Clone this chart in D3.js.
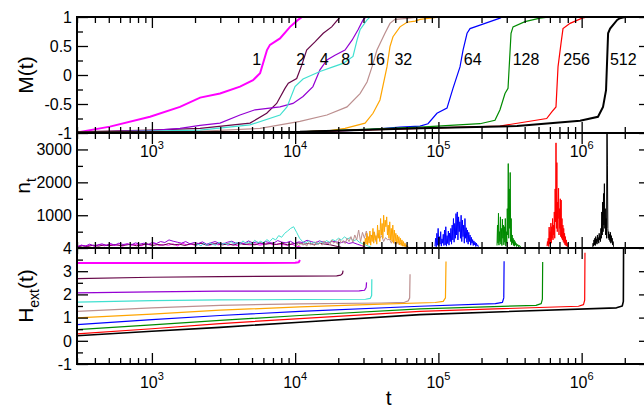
<!DOCTYPE html>
<html>
<head>
<meta charset="utf-8">
<script src="https://cdn.jsdelivr.net/npm/d3@7"></script>
<style>
body { margin: 0; background: #fff; }
svg { font-family: "Liberation Sans", Arial, sans-serif; }
</style>
</head>
<body>
<script>
// system sizes and their colours (xmgrace palette)
const sizes = ["1", "2", "4", "8", "16", "32", "64", "128", "256", "512"]
const colors = ["#ff00ff", "#670748", "#9400d3", "#40e0d0", "#bc8f8f",
  "#ffa500", "#0000ff", "#008b00", "#ff0000", "#000000"]

// where the size labels sit in the top panel (t, M)
const labelT = [5390, 10930, 15970, 22530, 36670, 56860, 173500, 408800, 923000, 1953000]
const labelM = 0.17

// M(t) curves, [t, M]
const mCurves = [
  [[300,-0.99],[509,-0.89],[970,-0.72],[1570,-0.55],[2170,-0.39],[2990,-0.32],[4120,-0.2],[5080,-0.09],[5690,0.03],[6360,0.43],[6670,0.52],[7840,0.63],[9210,0.83],[10470,0.95],[11170,1]],
  [[300,-0.98],[970,-0.95],[2170,-0.92],[4840,-0.83],[6330,-0.66],[7430,-0.49],[8490,-0.23],[8960,-0.14],[10250,-0.06],[11120,0.17],[12030,0.43],[13750,0.57],[15710,0.72],[17990,0.83],[20560,1]],
  [[300,-0.99],[970,-0.96],[1570,-0.92],[2170,-0.87],[2990,-0.83],[4120,-0.69],[5250,-0.6],[7840,-0.55],[9660,-0.49],[11350,-0.37],[13310,-0.2],[14900,0.09],[16670,0.26],[18970,0.34],[22290,0.43],[24950,0.6],[27480,0.78],[29780,0.95],[31260,1]],
  [[300,-0.99],[2170,-0.95],[4840,-0.86],[7840,-0.69],[8770,-0.55],[9980,-0.2],[11350,-0.07],[14900,0.06],[18370,0.14],[21580,0.2],[25350,0.32],[27040,0.6],[28380,0.78],[31760,0.95],[33340,1]],
  [[300,-0.99],[2170,-0.97],[5690,-0.92],[10800,-0.8],[16670,-0.69],[23020,-0.55],[28380,-0.32],[31760,-0.12],[34390,0.14],[37240,0.43],[42360,0.72],[45910,0.89],[49780,0.96],[63400,0.98],[74400,1]],
  [[300,-0.99],[10800,-0.98],[17500,-0.96],[22290,-0.92],[30760,-0.83],[34950,-0.66],[39090,-0.43],[43750,0.14],[45910,0.49],[48190,0.66],[53950,0.83],[60400,0.91],[68700,0.93],[74400,0.96],[102600,1]],
  [[300,-0.99],[10800,-0.98],[30000,-0.95],[53950,-0.9],[74400,-0.88],[84600,-0.84],[97700,-0.66],[114800,-0.57],[126400,-0.23],[141500,0.14],[148600,0.43],[158500,0.72],[166300,0.8],[195200,0.86],[269100,0.98],[277900,1]],
  [[300,-0.99],[10800,-0.98],[74400,-0.9],[195200,-0.84],[248300,-0.78],[269100,-0.6],[291700,-0.32],[306200,-0.23],[321400,0.72],[331900,0.83],[402000,0.92],[512000,0.98],[600000,1]],
  [[300,-0.99],[10800,-0.98],[74400,-0.92],[269100,-0.88],[570000,-0.75],[621000,-0.63],[662000,-0.55],[684000,0.14],[718000,0.55],[741000,0.8],[830000,0.89],[1007000,0.98],[1100000,1]],
  [[300,-0.99],[10800,-0.98],[74400,-0.92],[354000,-0.88],[975000,-0.79],[1300000,-0.72],[1410000,-0.55],[1480000,-0.26],[1530000,0.72],[1580000,0.8],[1770000,0.95],[1850000,0.98],[2010000,1]]
]

// n_t: first and last t of each record, values read at even steps in log t
const nRange = [[300,11000],[300,21000],[300,31000],[2000,34000],[10000,62000],
  [29780,61400],[94600,192000],[256500,377000],[573000,803000],[1194000,1680000]]
const nValues = [
  [40,90,60,100,50,110,70,120,80,100,60,130,90,110,70,120,100,140,80,110,90,130,70,150,100,120,80,140,110,90,130,100,150,90,120,80,140,110,100,130,90,120,150,100,130,110,90,120,60,30],
  [30,70,50,90,60,100,70,110,80,90,120,70,100,130,80,110,90,140,100,120,80,130,110,150,90,120,140,100,130,90,150,110,130,100,160,120,140,110,150,100,130,160,120,140,110,150,120,100,60,30],
  [40,90,60,120,70,100,130,80,140,90,150,110,130,100,160,120,150,110,170,140,200,170,250,210,180,150,200,130,170,140,190,120,160,200,150,130,180,210,150,170,140,220,160,190,130,200,170,150,230,180,160,210,140,190,170,240,200,160,220,180,150,210,190,160,200,140,170,120,80,30],
  [50,120,70,150,80,160,110,90,180,120,150,100,200,130,170,110,220,150,190,130,240,160,210,150,260,200,300,250,380,330,450,520,600,650,480,300,200,160,220,140,180,120,200,150,230,180,260,220,300,250,340,280,320,220,260,180,140,100,60,30],
  [50,120,70,150,90,130,60,170,100,140,70,200,110,160,90,220,130,180,100,250,150,200,120,280,160,230,140,300,200,350,180,400,250,550,200,480,300,520,250,400,350,500,200,450,300,380,200,320,250,280,150,250,120,200,100,150,80,100,50,30],
  [60,200,80,300,120,450,100,350,150,520,90,400,200,600,150,480,250,380,120,700,300,550,200,900,400,750,300,1000,500,850,650,950,400,700,300,800,250,600,200,700,150,550,200,450,120,400,150,350,100,300,80,250,60,200,50,150,40,100,30,20],
  [60,300,40,450,90,600,70,350,120,500,60,280,150,420,80,550,100,650,60,380,140,520,90,460,200,600,120,700,250,900,180,750,300,1050,400,1100,250,950,500,800,300,1000,200,850,350,700,150,900,300,620,180,550,120,480,200,400,90,330,150,260,80,220,100,180,50,150,70,100,40,20],
  [80,700,150,1060,90,500,200,950,120,600,80,880,300,700,100,650,180,900,60,500,150,1200,400,2570,300,1800,600,2300,200,900,100,400,150,300,80,250,60,200,100,150,50,120,80,100,40,90,60,70,30,20],
  [60,200,80,300,50,640,120,500,200,760,150,650,300,900,250,700,400,1100,300,1800,800,3200,600,2600,500,1400,900,1820,400,1200,600,1500,350,1460,300,900,250,700,200,600,150,450,100,350,80,250,60,150,40,20],
  [40,150,60,250,100,300,80,350,150,280,120,400,200,320,150,450,250,380,200,600,300,1100,400,1400,500,1660,700,1960,600,1200,400,900,300,4000,2500,600,300,500,250,420,200,480,150,380,200,300,100,200,50,20]
]

// H_ext(t) curves, [t, H]
const hCurves = [
  [[300,3.35],[10000,3.36],[10600,3.39],[10800,3.48]],
  [[300,2.68],[1000,2.74],[2990,2.77],[10800,2.79],[19500,2.8],[20800,2.83],[21400,2.9],[21600,3.02]],
  [[300,2.07],[1000,2.11],[2990,2.14],[28000,2.15],[30500,2.18],[31300,2.3],[31500,2.52]],
  [[300,1.67],[1000,1.73],[2990,1.76],[10800,1.78],[31000,1.79],[33500,1.83],[34200,1.95],[34300,2.65]],
  [[300,1.27],[1000,1.42],[2990,1.53],[10800,1.59],[40000,1.63],[58000,1.66],[61500,1.72],[63000,1.85],[63400,2.87]],
  [[300,0.99],[1000,1.15],[2990,1.32],[10800,1.46],[40000,1.58],[95000,1.65],[108000,1.7],[112000,1.85],[113000,3.42]],
  [[300,0.7],[1000,0.91],[2990,1.09],[10800,1.27],[74400,1.49],[250000,1.6],[280000,1.66],[286000,1.85],[287500,3.43]],
  [[300,0.48],[1000,0.69],[2990,0.88],[10800,1.09],[74400,1.38],[480000,1.53],[522000,1.6],[532000,1.8],[534500,3.4]],
  [[300,0.3],[1000,0.52],[2990,0.74],[10800,0.96],[74400,1.27],[950000,1.49],[1030000,1.56],[1050000,1.75],[1055000,3.8]],
  [[300,0.22],[1000,0.41],[2990,0.58],[10800,0.8],[74400,1.13],[1750000,1.42],[1920000,1.5],[1955000,1.7],[1962000,4.2]]
]

// axis ticks
const xMajor = [1e3, 1e4, 1e5, 1e6]
const xExp = ["3", "4", "5", "6"]
const mMajor = [-1, -0.5, 0, 0.5, 1], mMinor = [-0.75, -0.25, 0.25, 0.75]
const mLabels = ["-1", "-0.5", "0", "0.5", "1"]
const nMajor = [4, 1000, 2000, 3000], nMinor = [500, 1500, 2500]
const nLabels = ["4", "1000", "2000", "3000"]
const hMajor = [-1, 0, 1, 2, 3], hMinor = [-0.5, 0.5, 1.5, 2.5, 3.5]
const hLabels = ["-1", "0", "1", "2", "3"]

const width = 644, height = 408
const left = 77, right = 650

const svg = d3.select("body").append("svg")
  .attr("width", width)
  .attr("height", height)

const x = d3.scaleLog().domain([300, 3e6]).range([left, right])
const xMinor = x.ticks().filter(function (d) { return xMajor.indexOf(d) < 0 })

const yM = d3.scaleLinear().domain([-1, 1]).range([133, 17])
const yN = d3.scaleLinear().domain([4, 3500]).range([248, 133])
const yH = d3.scaleLinear().domain([-1, 4]).range([364, 248])

const panels = [
  { y: yM, major: mMajor, minor: mMinor, labels: mLabels },
  { y: yN, major: nMajor, minor: nMinor, labels: nLabels },
  { y: yH, major: hMajor, minor: hMinor, labels: hLabels }
]

// clip each panel so spikes stay inside the frame
panels.forEach(function (p, i) {
  const r = p.y.range()
  svg.append("clipPath").attr("id", "clip" + i)
    .append("rect")
    .attr("x", left).attr("y", r[1])
    .attr("width", right - left).attr("height", r[0] - r[1])
})

const line = function (y) {
  return d3.line().x(function (d) { return x(d[0]) }).y(function (d) { return y(d[1]) })
}

// top panel
svg.append("g").attr("clip-path", "url(#clip0)")
  .selectAll("path")
  .data(mCurves)
  .enter().append("path")
  .attr("fill", "none")
  .attr("stroke", function (d, i) { return colors[i] })
  .attr("stroke-width", function (d, i) { return (i == 0 || i == 9) ? 2 : 1.2 })
  .attr("d", line(yM))

svg.append("g").selectAll("text")
  .data(sizes)
  .enter().append("text")
  .attr("x", function (d, i) { return x(labelT[i]) })
  .attr("y", yM(labelM))
  .attr("text-anchor", "middle")
  .attr("font-size", 16)
  .text(function (d) { return d })

// middle panel
const nSeries = nValues.map(function (vals, i) {
  const lt = d3.scaleLinear().domain([0, vals.length - 1])
    .range([Math.log10(nRange[i][0]), Math.log10(nRange[i][1])])
  return vals.map(function (v, j) { return [Math.pow(10, lt(j)), v] })
})
svg.append("g").attr("clip-path", "url(#clip1)")
  .selectAll("path")
  .data(nSeries)
  .enter().append("path")
  .attr("fill", "none")
  .attr("stroke", function (d, i) { return colors[i] })
  .attr("stroke-width", 1)
  .attr("d", line(yN))

// bottom panel
svg.append("g").attr("clip-path", "url(#clip2)")
  .selectAll("path")
  .data(hCurves)
  .enter().append("path")
  .attr("fill", "none")
  .attr("stroke", function (d, i) { return colors[i] })
  .attr("stroke-width", function (d, i) { return (i == 0) ? 2 : (i == 9 ? 1.6 : 1.2) })
  .attr("stroke-linejoin", "round")
  .attr("d", line(yH))

// ticks and frames
panels.forEach(function (p) {
  const r = p.y.range()
  const g = svg.append("g").attr("class", "axes")
  const drawn = [
    [d3.axisBottom(x), "translate(0," + r[0] + ")", xMajor, xMinor],
    [d3.axisTop(x), "translate(0," + r[1] + ")", xMajor, xMinor],
    [d3.axisLeft(p.y), "translate(" + left + ",0)", p.major, p.minor],
    [d3.axisRight(p.y), "translate(" + right + ",0)", p.major, p.minor]
  ]
  drawn.forEach(function (a) {
    g.append("g").attr("transform", a[1])
      .call(a[0].tickValues(a[2]).tickSizeInner(-11).tickSizeOuter(0).tickFormat(""))
    g.append("g").attr("transform", a[1])
      .call(a[0].tickValues(a[3]).tickSizeInner(-6).tickSizeOuter(0).tickFormat(""))
  })
  g.selectAll(".domain").remove()
  g.selectAll(".tick line").attr("stroke", "#000").attr("stroke-width", 1.3)

  g.append("rect")
    .attr("x", left).attr("y", r[1])
    .attr("width", right - left).attr("height", r[0] - r[1])
    .attr("fill", "none").attr("stroke", "#000").attr("stroke-width", 2)

  g.selectAll(".ylab")
    .data(p.major)
    .enter().append("text")
    .attr("x", left - 5)
    .attr("y", function (d) { return p.y(d) })
    .attr("dy", "0.36em")
    .attr("text-anchor", "end")
    .attr("font-size", 16)
    .text(function (d, i) { return p.labels[i] })
})

// x tick labels below top and bottom panels
function xLabels(baseline) {
  const t = svg.append("g").selectAll("text")
    .data(xMajor)
    .enter().append("text")
    .attr("x", function (d) { return x(d) })
    .attr("y", baseline)
    .attr("text-anchor", "middle")
    .attr("font-size", 16)
  t.append("tspan").text("10")
  t.append("tspan").attr("dy", -8).attr("font-size", 11)
    .text(function (d, i) { return xExp[i] })
}
xLabels(157)
xLabels(388)

// axis titles
function yTitle(cx, cy) {
  return svg.append("text")
    .attr("transform", "translate(" + cx + "," + cy + ") rotate(-90)")
    .attr("text-anchor", "middle")
    .attr("font-size", 21)
}
yTitle(33, 75).text("M(t)")
const nt = yTitle(30, 186)
nt.append("tspan").text("n")
nt.append("tspan").attr("dy", 6).attr("font-size", 14).text("t")
const ht = yTitle(33, 296)
ht.append("tspan").text("H")
ht.append("tspan").attr("dy", 6).attr("font-size", 14).text("ext")
ht.append("tspan").attr("dy", -6).text("(t)")

svg.append("text")
  .attr("x", x(45000))
  .attr("y", 405)
  .attr("text-anchor", "middle")
  .attr("font-size", 21)
  .text("t")
</script>
</body>
</html>
